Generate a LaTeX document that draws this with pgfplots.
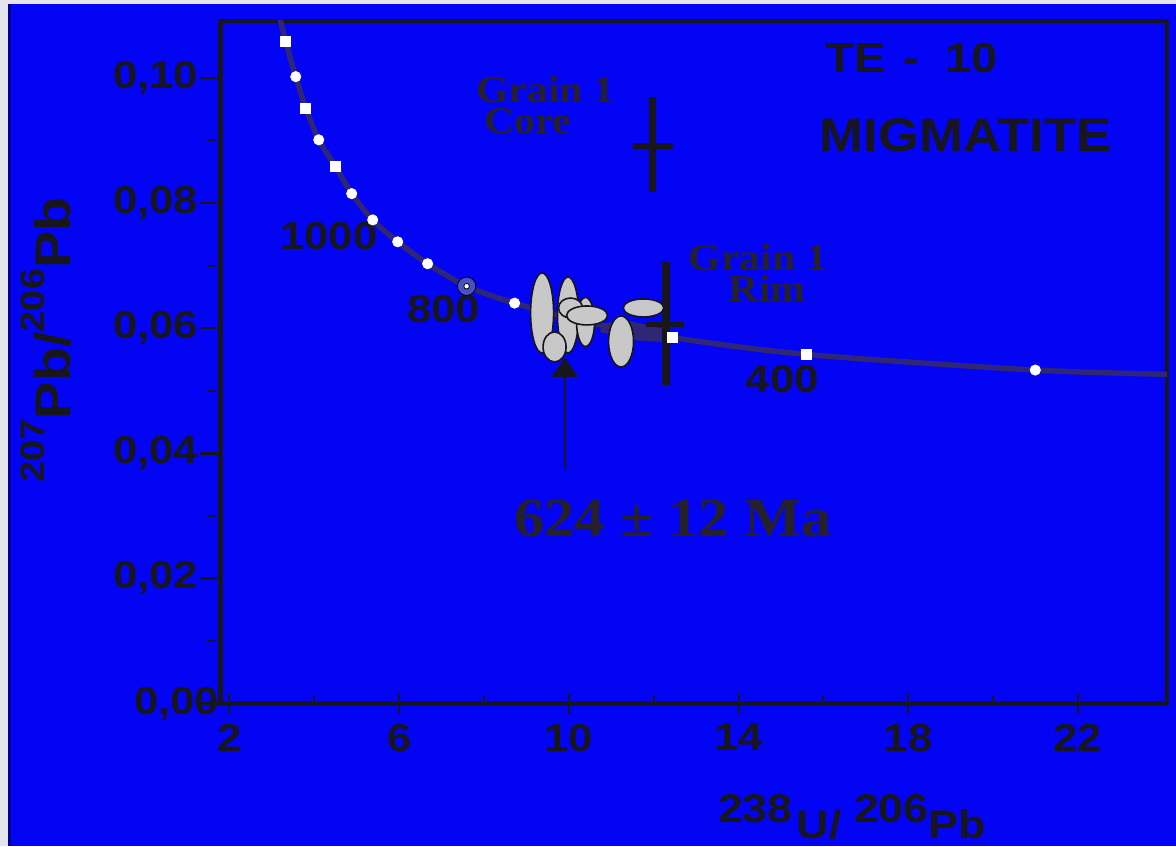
\documentclass[border=0pt]{standalone}
\usepackage{fontspec}
\setmainfont{Liberation Sans}
\newfontfamily\wsans[FakeStretch=1.12]{Liberation Sans}
\newfontfamily\wserif[FakeStretch=1.1]{Liberation Serif}
\usepackage{pgfplots}
\pgfplotsset{compat=1.18}
\usetikzlibrary{arrows.meta}
\definecolor{bgblue}{RGB}{4,4,244}
\definecolor{ink}{RGB}{22,22,28}
\definecolor{serifink}{RGB}{38,32,40}
\definecolor{concordia}{RGB}{48,38,118}
\definecolor{halo}{RGB}{70,82,196}
\definecolor{ellgray}{RGB}{200,200,200}
\definecolor{stripgray}{RGB}{228,228,238}
\definecolor{edgeblue}{RGB}{0,0,150}
\tikzset{ellrx/.store in=\ellrx, ellry/.store in=\ellry, ellrx=5pt, ellry=5pt}
\pgfdeclareplotmark{ell}{%
  \pgfpathellipse{\pgfpointorigin}{\pgfqpoint{\ellrx}{0pt}}{\pgfqpoint{0pt}{\ellry}}%
  \pgfusepathqfillstroke}
\newcommand{\numfont}{\wsans\bfseries\fontsize{19.5}{19.5}\selectfont}
\begin{document}
\begin{tikzpicture}
\path[use as bounding box, fill=bgblue] (-110.25pt,-71.25pt) rectangle (477.75pt,351.75pt);
\fill[stripgray] (-110.25pt,-71.25pt) rectangle (-106.25pt,351.75pt);
\fill[stripgray] (-110.25pt,349.75pt) rectangle (477.75pt,351.75pt);
\fill[edgeblue] (-106.25pt,-71.25pt) rectangle (-104.75pt,349.75pt);
\begin{axis}[
  at={(0pt,0pt)}, anchor=south west,
  scale only axis, width=473.25pt, height=341.25pt,
  xmin=1.788, xmax=24.10, ymin=0, ymax=0.1091,
  axis line style={line width=2.2pt, draw=ink},
  tickpos=left, tick align=outside,
  xtick={2,6,10,14,18,22}, xticklabels={2,6,10,14,18,22},
  minor xtick={4,8,12,16,20},
  ytick={0,0.02,0.04,0.06,0.08,0.10},
  yticklabels={{0,00\kern-10.5pt},{0,02},{0,04},{0,06},{0,08},{0,10}},
  minor ytick={0.01,0.03,0.05,0.07,0.09},
  major tick length=10pt, minor tick length=4pt,
  every tick/.style={draw=ink},
  every major x tick/.append style={line width=1pt, yshift=5pt},
  every minor x tick/.append style={line width=0.9pt, yshift=4pt},
  every major y tick/.append style={line width=1.3pt},
  every minor y tick/.append style={line width=1pt, xshift=-2.75pt},
  xticklabel style={font=\numfont, text=ink, inner ysep=0pt},
  yticklabel style={font=\numfont, text=ink, inner xsep=1pt},
  xlabel={\raisebox{8pt}{238}\hspace{2pt}U/ \raisebox{8pt}{206}Pb},
  xlabel style={at={(rel axis cs:0.6672,0)}, anchor=base, yshift=-67.25pt,
    font=\wsans\bfseries\fontsize{20}{20}\selectfont, text=ink, inner sep=0pt},
  ylabel={\raisebox{13pt}{\fontsize{17}{17}\selectfont 207}Pb/\raisebox{13pt}{\fontsize{17}{17}\selectfont 206}Pb},
  ylabel style={at={(rel axis cs:-0.159,0.5326)}, anchor=base,
    font=\wsans\bfseries\fontsize{25}{25}\selectfont, text=ink, inner sep=0pt},
]
% concordia error band near 500-600 Ma
\addplot[fill=concordia, draw=none] coordinates {
  (10.747,0.06067) (11.336,0.06131) (12.231,0.05987)
  (12.231,0.05779) (11.453,0.05811) (10.747,0.05939)} -- cycle;
% concordia curve
\addplot[concordia, line width=2.7pt, smooth] coordinates {
  (3.17,0.1100) (3.326,0.1058) (3.562,0.1002) (3.797,0.0952) (4.104,0.0901)
  (4.504,0.0858) (4.881,0.0815) (5.376,0.0773) (5.965,0.0738) (6.671,0.0703)
  (7.590,0.0667) (8.721,0.0640) (10.252,0.0612) (12.443,0.0585) (15.600,0.0558)
  (20.995,0.0533) (24.30,0.0526)};
% halo around 800 Ma point
\addplot[only marks, mark=*, mark size=4.6pt, mark options={fill=halo, draw=none}]
  coordinates {(7.590,0.0667)};
% square age markers
\addplot[only marks, mark=square*, mark size=2.5pt, mark options={fill=white, draw=white, line width=0.3pt}]
  coordinates {(3.326,0.1058) (3.797,0.0952) (4.504,0.0858) (12.443,0.0585) (15.600,0.0558)};
% round age markers
\addplot[only marks, mark=*, mark size=2.6pt, mark options={fill=white, draw=white, line width=0.3pt}]
  coordinates {(3.562,0.1002) (4.104,0.0901) (4.881,0.0815) (5.376,0.0773) (5.965,0.0738)
  (6.671,0.0703) (8.721,0.0640) (20.995,0.0533)};
\addplot[only marks, mark=*, mark size=1.4pt, mark options={fill=white, draw=none}]
  coordinates {(7.590,0.0667)};
% analysis ellipses
\addplot[only marks, mark=ell, ellrx=5.75pt, ellry=20pt, mark options={fill=ellgray, draw=ink, line width=0.8pt}] coordinates {(9.369,0.06243)};
\addplot[only marks, mark=ell, ellrx=5.3pt, ellry=19pt, mark options={fill=ellgray, draw=ink, line width=0.8pt}] coordinates {(9.981,0.06211)};
\addplot[only marks, mark=ell, ellrx=4.5pt, ellry=12.25pt, mark options={fill=ellgray, draw=ink, line width=0.8pt}] coordinates {(10.393,0.06099)};
\addplot[only marks, mark=ell, ellrx=6pt, ellry=5pt, mark options={fill=ellgray, draw=ink, line width=0.8pt}] coordinates {(10.040,0.06322)};
\addplot[only marks, mark=ell, ellrx=10.25pt, ellry=4.75pt, mark options={fill=ellgray, draw=ink, line width=0.8pt}] coordinates {(10.429,0.06203)};
\addplot[only marks, mark=ell, ellrx=5.75pt, ellry=7.5pt, mark options={fill=ellgray, draw=ink, line width=0.8pt}] coordinates {(9.663,0.05700)};
\addplot[only marks, mark=ell, ellrx=6.25pt, ellry=12.75pt, mark options={fill=ellgray, draw=ink, line width=0.8pt}] coordinates {(11.230,0.05787)};
\addplot[only marks, mark=ell, ellrx=10.15pt, ellry=4.5pt, mark options={fill=ellgray, draw=ink, line width=0.8pt}] coordinates {(11.760,0.06323)};
% grain 1 core cross
\addplot[ink, line width=3.6pt] coordinates {(11.972,0.09695) (11.972,0.08177)};
\addplot[ink, line width=2.8pt] coordinates {(11.501,0.08913) (12.444,0.08913)};
% grain 1 rim cross
\addplot[ink, line width=3.8pt] coordinates {(12.290,0.07063) (12.290,0.05092)};
\addplot[ink, line width=2.8pt] coordinates {(11.807,0.06059) (12.709,0.06059)};
% arrow
\addplot[ink, line width=0.7pt, -{Triangle[length=9.5pt,width=13.3pt]}] coordinates {(9.906,0.03734) (9.906,0.05524)};
% labels
\node[anchor=base west, inner sep=0pt, text=ink, font=\wsans\bfseries\fontsize{21}{21}\selectfont] at (axis cs:16.047,0.1008) {TE\hspace{9pt}-\hspace{13pt}10};
\node[anchor=base west, inner sep=0pt, text=ink, font=\wsans\bfseries\fontsize{23.5}{23.5}\selectfont] at (axis cs:15.906,0.08817) {MIGMATITE};
\node[anchor=west, align=left, inner sep=0pt, text=serifink, font=\wserif\bfseries\fontsize{19}{15.5}\selectfont] at (axis cs:7.802,0.09571) {Grain 1\\\hspace*{4pt}Core};
\node[anchor=west, align=left, inner sep=0pt, text=serifink, font=\wserif\bfseries\fontsize{19}{15.5}\selectfont] at (axis cs:12.820,0.06885) {Grain 1\\\hspace*{20pt}Rim};
\node[anchor=base east, inner sep=0pt, text=ink, font=\numfont] at (axis cs:5.494,0.07250) {1000};
\node[anchor=base east, inner sep=0pt, text=ink, font=\numfont] at (axis cs:7.920,0.06083) {800};
\node[anchor=base west, inner sep=0pt, text=ink, font=\numfont] at (axis cs:14.163,0.04964) {400};
\node[anchor=base, inner sep=0pt, text=serifink, font=\wserif\bfseries\fontsize{27.5}{27.5}\selectfont] at (axis cs:12.455,0.02662) {624 ± 12 Ma};
\end{axis}
\end{tikzpicture}
\end{document}
